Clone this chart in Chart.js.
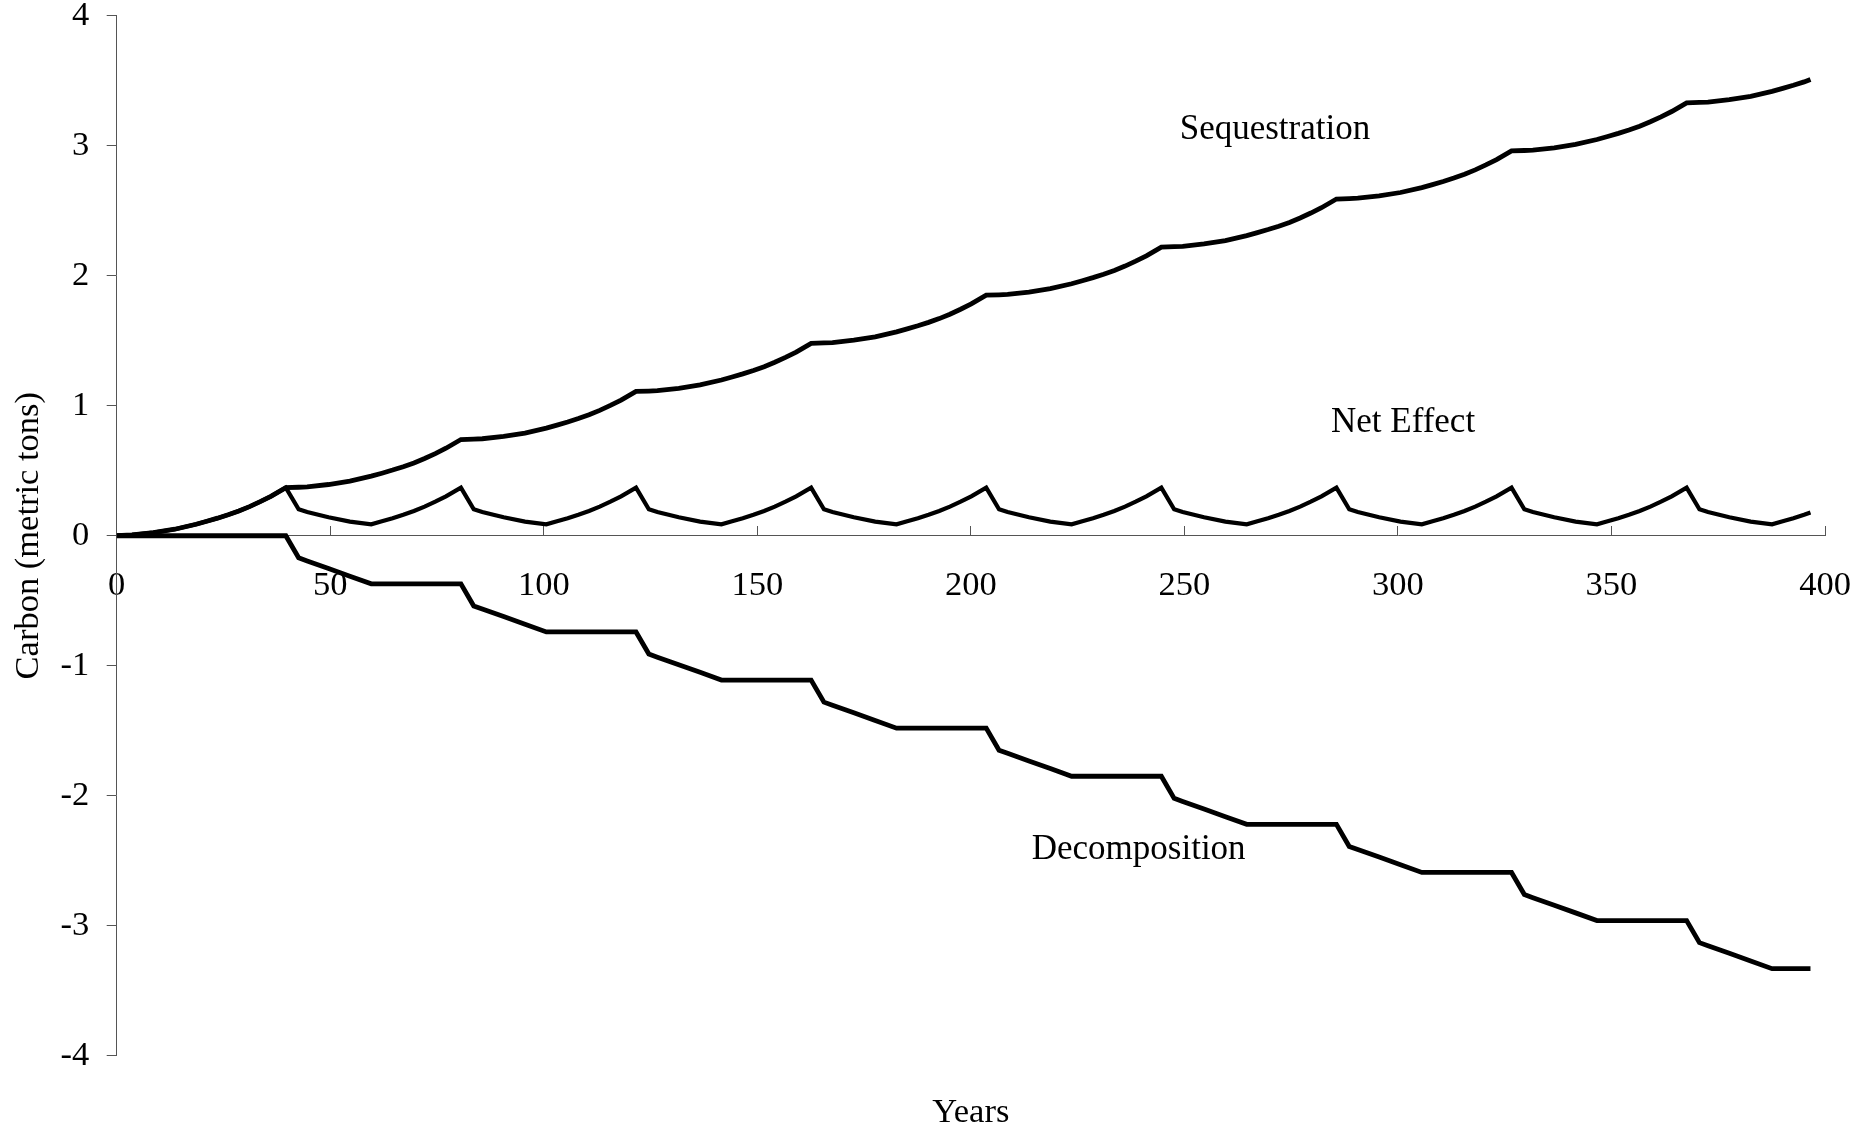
<!DOCTYPE html>
<html>
<head>
<meta charset="utf-8">
<script src="https://cdn.jsdelivr.net/npm/chart.js@4.4.1/dist/chart.umd.min.js"></script>
<style>
html,body{margin:0;padding:0;background:#fff;}
canvas{display:block;}
</style>
</head>
<body>
<canvas id="c" width="1864" height="1128" style="width:1864px;height:1128px"></canvas>
<script>
// ---------------- DATA ----------------
const years = [
  0, 3.6, 8.6, 13.6, 18.6, 21.1, 23.6, 26.1, 28.6, 31.1, 33.6, 36.1,
  39.6, 42.6, 44.6, 49.6, 54.6, 59.6, 62.1, 64.6, 67.1, 69.6, 72.1, 74.6, 77.1,
  80.6, 83.6, 85.6, 90.6, 95.6, 100.6, 103.1, 105.6, 108.1, 110.6, 113.1, 115.6, 118.1,
  121.6, 124.6, 126.6, 131.6, 136.6, 141.6, 144.1, 146.6, 149.1, 151.6, 154.1, 156.6, 159.1,
  162.6, 165.6, 167.6, 172.6, 177.6, 182.6, 185.1, 187.6, 190.1, 192.6, 195.1, 197.6, 200.1,
  203.6, 206.6, 208.6, 213.6, 218.6, 223.6, 226.1, 228.6, 231.1, 233.6, 236.1, 238.6, 241.1,
  244.6, 247.6, 249.6, 254.6, 259.6, 264.6, 267.1, 269.6, 272.1, 274.6, 277.1, 279.6, 282.1,
  285.6, 288.6, 290.6, 295.6, 300.6, 305.6, 308.1, 310.6, 313.1, 315.6, 318.1, 320.6, 323.1,
  326.6, 329.6, 331.6, 336.6, 341.6, 346.6, 349.1, 351.6, 354.1, 356.6, 359.1, 361.6, 364.1,
  367.6, 370.6, 372.6, 377.6, 382.6, 387.6, 390.1, 392.6, 395.1, 396.6
];

const sequestration = [
  0, 0.006, 0.024, 0.05, 0.088, 0.111, 0.135, 0.161, 0.19, 0.224, 0.262, 0.303,
  0.37, 0.373, 0.376, 0.394, 0.42, 0.458, 0.481, 0.505, 0.531, 0.56, 0.594, 0.632, 0.673,
  0.74, 0.743, 0.746, 0.764, 0.79, 0.828, 0.851, 0.875, 0.901, 0.93, 0.964, 1.002, 1.043,
  1.11, 1.113, 1.116, 1.134, 1.16, 1.198, 1.221, 1.245, 1.271, 1.30, 1.334, 1.372, 1.413,
  1.48, 1.483, 1.486, 1.504, 1.53, 1.568, 1.591, 1.615, 1.641, 1.67, 1.704, 1.742, 1.783,
  1.85, 1.853, 1.856, 1.874, 1.90, 1.938, 1.961, 1.985, 2.011, 2.04, 2.074, 2.112, 2.153,
  2.22, 2.223, 2.226, 2.244, 2.27, 2.308, 2.331, 2.355, 2.381, 2.41, 2.444, 2.482, 2.523,
  2.59, 2.593, 2.596, 2.614, 2.64, 2.678, 2.701, 2.725, 2.751, 2.78, 2.814, 2.852, 2.893,
  2.96, 2.963, 2.966, 2.984, 3.01, 3.048, 3.071, 3.095, 3.121, 3.15, 3.184, 3.222, 3.263,
  3.33, 3.333, 3.336, 3.354, 3.38, 3.418, 3.441, 3.465, 3.491, 3.51
];

const netEffect = [
  0, 0.006, 0.024, 0.05, 0.088, 0.111, 0.135, 0.161, 0.19, 0.224, 0.262, 0.303,
  0.37, 0.203, 0.182, 0.142, 0.109, 0.088, 0.111, 0.135, 0.161, 0.19, 0.224, 0.262, 0.303,
  0.37, 0.203, 0.182, 0.142, 0.109, 0.088, 0.111, 0.135, 0.161, 0.19, 0.224, 0.262, 0.303,
  0.37, 0.203, 0.182, 0.142, 0.109, 0.088, 0.111, 0.135, 0.161, 0.19, 0.224, 0.262, 0.303,
  0.37, 0.203, 0.182, 0.142, 0.109, 0.088, 0.111, 0.135, 0.161, 0.19, 0.224, 0.262, 0.303,
  0.37, 0.203, 0.182, 0.142, 0.109, 0.088, 0.111, 0.135, 0.161, 0.19, 0.224, 0.262, 0.303,
  0.37, 0.203, 0.182, 0.142, 0.109, 0.088, 0.111, 0.135, 0.161, 0.19, 0.224, 0.262, 0.303,
  0.37, 0.203, 0.182, 0.142, 0.109, 0.088, 0.111, 0.135, 0.161, 0.19, 0.224, 0.262, 0.303,
  0.37, 0.203, 0.182, 0.142, 0.109, 0.088, 0.111, 0.135, 0.161, 0.19, 0.224, 0.262, 0.303,
  0.37, 0.203, 0.182, 0.142, 0.109, 0.088, 0.111, 0.135, 0.161, 0.178
];

const decomposition = [
  0, 0, 0, 0, 0, 0, 0, 0, 0, 0, 0, 0,
  0, -0.17, -0.194, -0.252, -0.311, -0.37, -0.37, -0.37, -0.37, -0.37, -0.37, -0.37, -0.37,
  -0.37, -0.54, -0.564, -0.622, -0.681, -0.74, -0.74, -0.74, -0.74, -0.74, -0.74, -0.74, -0.74,
  -0.74, -0.91, -0.934, -0.992, -1.051, -1.11, -1.11, -1.11, -1.11, -1.11, -1.11, -1.11, -1.11,
  -1.11, -1.28, -1.304, -1.362, -1.421, -1.48, -1.48, -1.48, -1.48, -1.48, -1.48, -1.48, -1.48,
  -1.48, -1.65, -1.674, -1.732, -1.791, -1.85, -1.85, -1.85, -1.85, -1.85, -1.85, -1.85, -1.85,
  -1.85, -2.02, -2.044, -2.102, -2.161, -2.22, -2.22, -2.22, -2.22, -2.22, -2.22, -2.22, -2.22,
  -2.22, -2.39, -2.414, -2.472, -2.531, -2.59, -2.59, -2.59, -2.59, -2.59, -2.59, -2.59, -2.59,
  -2.59, -2.76, -2.784, -2.842, -2.901, -2.96, -2.96, -2.96, -2.96, -2.96, -2.96, -2.96, -2.96,
  -2.96, -3.13, -3.154, -3.212, -3.271, -3.33, -3.33, -3.33, -3.33, -3.33
];

const seriesNames = ['Sequestration', 'Net Effect', 'Decomposition'];

const xTickValues = [0, 50, 100, 150, 200, 250, 300, 350, 400];
const xTickLabels = ['0', '50', '100', '150', '200', '250', '300', '350', '400'];
const yTickValues = [-4, -3, -2, -1, 0, 1, 2, 3, 4];
const yTickLabels = ['-4', '-3', '-2', '-1', '0', '1', '2', '3', '4'];

const xAxisTitle = 'Years';
const yAxisTitle = 'Carbon (metric tons)';

// ---------------- CHART ----------------
const FONT = "'Liberation Serif', 'Times New Roman', serif";
const toPoints = (vals) => years.map((x, i) => ({ x: x, y: vals[i] }));

const seriesText = {
  id: 'seriesText',
  afterDatasetsDraw(chart, args, opts) {
    const ctx = chart.ctx;
    const xs = chart.scales.x, ys = chart.scales.y;
    ctx.save();
    ctx.font = opts.size + 'px ' + opts.family;
    ctx.fillStyle = opts.color;
    ctx.textAlign = 'center';
    ctx.textBaseline = 'middle';
    opts.items.forEach(it => {
      const label = chart.data.datasets[it.dataset].label;
      ctx.fillText(label, xs.getPixelForValue(it.x), ys.getPixelForValue(it.y));
    });
    ctx.restore();
  }
};

const lineStyle = (w) => ({
  borderColor: '#000',
  backgroundColor: '#000',
  borderWidth: w,
  pointRadius: 0,
  pointHoverRadius: 0,
  tension: 0,
  fill: false,
  borderJoinStyle: 'miter',
  borderCapStyle: 'butt',
  xAxisID: 'x',
  yAxisID: 'y'
});

new Chart(document.getElementById('c'), {
  type: 'line',
  data: {
    datasets: [
      Object.assign({ label: seriesNames[0], data: toPoints(sequestration) }, lineStyle(4.8)),
      Object.assign({ label: seriesNames[1], data: toPoints(netEffect) }, lineStyle(4.2)),
      Object.assign({ label: seriesNames[2], data: toPoints(decomposition) }, lineStyle(4.8))
    ]
  },
  options: {
    responsive: false,
    animation: false,
    devicePixelRatio: 1,
    layout: { padding: { left: 0, right: 39, top: 15.7, bottom: 0 } },
    plugins: {
      legend: { display: false },
      tooltip: { enabled: false },
      seriesText: {
        family: FONT, size: 35, color: '#000',
        items: [
          { dataset: 0, x: 271.2, y: 3.124 },
          { dataset: 1, x: 301.2, y: 0.867 },
          { dataset: 2, x: 239.3, y: -2.418 }
        ]
      }
    },
    scales: {
      x: {
        type: 'linear',
        min: 0, max: 400,
        position: { y: 0 },
        afterBuildTicks: (s) => { s.ticks = xTickValues.map(v => ({ value: v })); },
        afterFit: (s) => { s.paddingLeft = 0; s.paddingRight = 0; s.paddingTop = 0; s.paddingBottom = 0; },
        ticks: {
          callback: (v) => xTickLabels[xTickValues.indexOf(v)],
          font: { family: FONT, size: 34.5, lineHeight: 1.2 },
          color: '#000',
          padding: 40,
          maxRotation: 0,
          autoSkip: false
        },
        grid: { drawOnChartArea: false, drawTicks: true, tickLength: -10, color: '#555', lineWidth: 1 },
        border: { display: true, color: '#555', width: 1 }
      },
      xTitle: {
        type: 'linear',
        position: 'bottom',
        min: 0, max: 400,
        ticks: { display: false },
        grid: { display: false, drawTicks: false },
        border: { display: false },
        afterFit: (s) => { s.paddingLeft = 0; s.paddingRight = 0; s.paddingTop = 0; s.paddingBottom = 0; },
        title: {
          display: true, text: xAxisTitle, color: '#000',
          font: { family: FONT, size: 34.5, lineHeight: 0.9 },
          padding: { top: 41.2, bottom: 0 }
        }
      },
      y: {
        type: 'linear',
        min: -4, max: 4,
        position: 'left',
        afterFit: (s) => { s.width = 116.7; s.paddingTop = 0; s.paddingBottom = 0; s.paddingLeft = 0; s.paddingRight = 0; },
        afterBuildTicks: (s) => { s.ticks = yTickValues.map(v => ({ value: v })); },
        ticks: {
          callback: (v) => yTickLabels[yTickValues.indexOf(v)],
          font: { family: FONT, size: 34.5, lineHeight: 0.9 },
          color: '#000',
          padding: 17.4
        },
        grid: { drawOnChartArea: false, drawTicks: true, tickLength: 10, color: '#555', lineWidth: 1 },
        border: { display: true, color: '#555', width: 1 },
        title: {
          display: true, text: yAxisTitle, color: '#000',
          font: { family: FONT, size: 34.5, lineHeight: 1.2 },
          padding: { top: 8, bottom: 0 }
        }
      }
    }
  },
  plugins: [seriesText]
});
</script>
</body>
</html>
